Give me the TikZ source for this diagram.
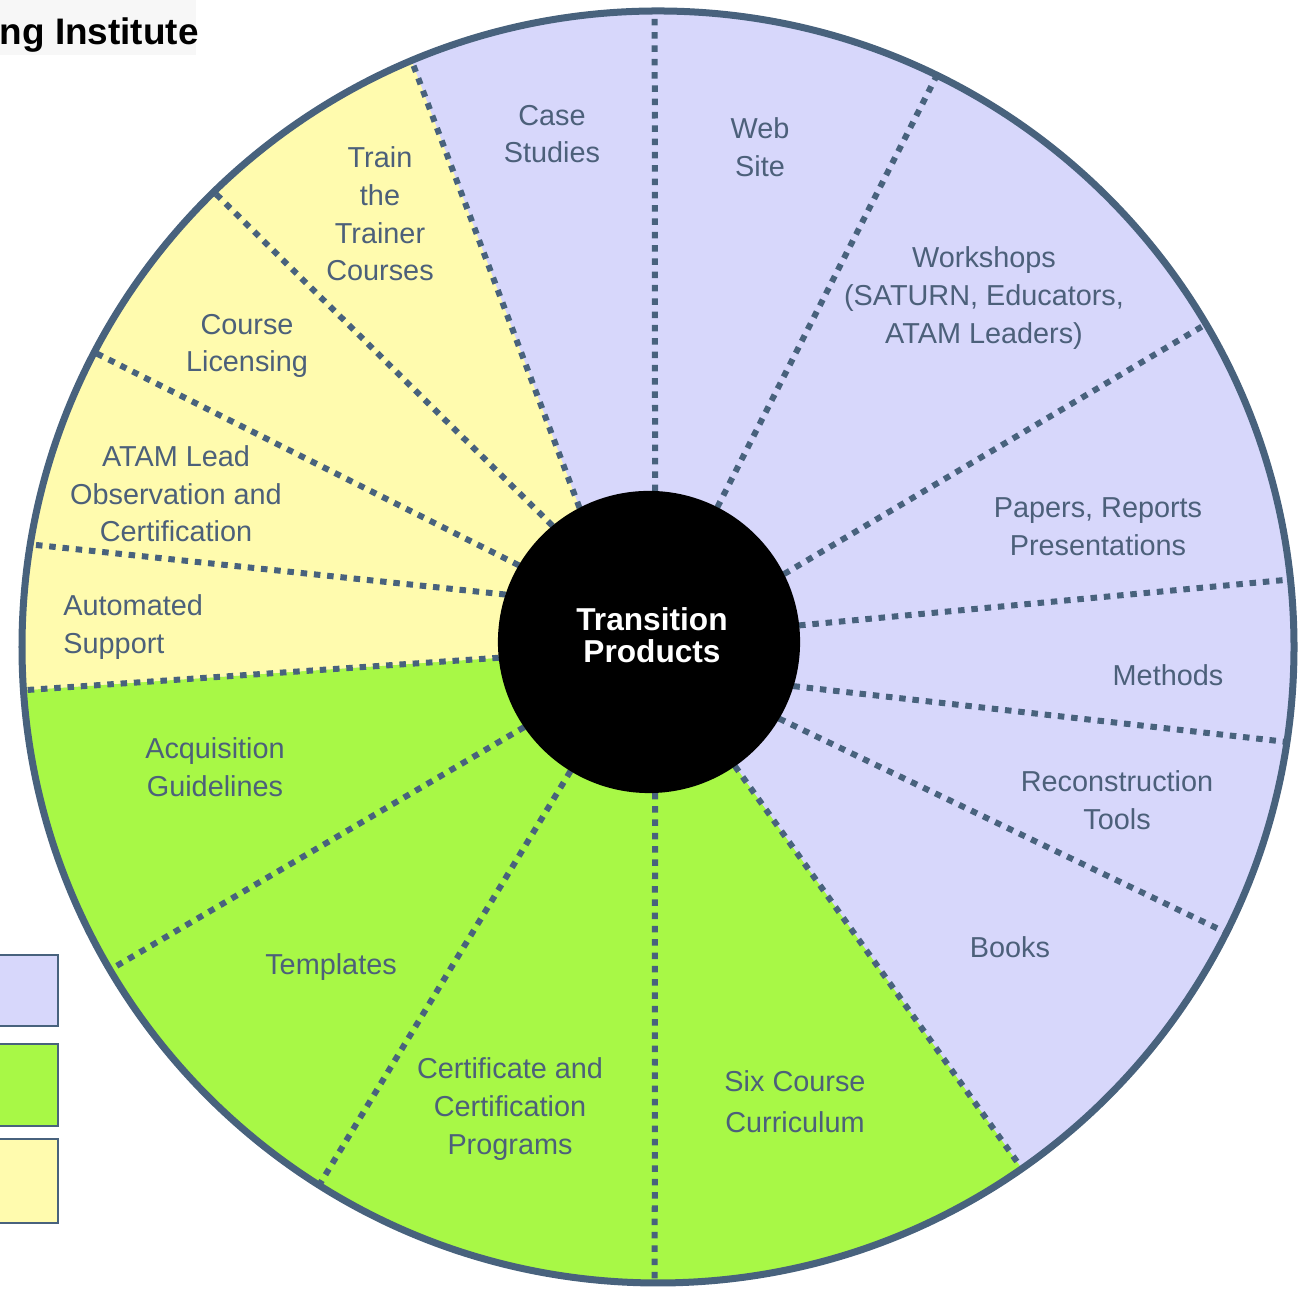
\documentclass[tikz,border=0pt]{standalone}
\usepackage{fontspec}
\setmainfont{Liberation Sans}
\usepackage{tikz}
\definecolor{seiring}{RGB}{72, 98, 125}
\definecolor{seitext}{RGB}{76, 96, 122}
\definecolor{seilav}{RGB}{215, 215, 251}
\definecolor{seigreen}{RGB}{168, 248, 70}
\definecolor{seiyellow}{RGB}{255, 251, 174}

\begin{document}
\begin{tikzpicture}[x=0.01cm, y=0.01cm,
  divider/.style={seiring, line width=0.06cm, dash pattern=on 0.065cm off 0.068cm},
  ring/.style={seiring, line width=0.07cm},
  legendbox/.style={draw=seiring, line width=0.5pt},
  sector/.style={text=seitext, align=center, font=\fontsize{8.2}{10.7}\selectfont},
  hub/.style={circle, fill=black, minimum size=3.02cm, inner sep=0pt, outer sep=0pt},
  hubtext/.style={text=white, align=center, font=\fontsize{9}{9.2}\selectfont\bfseries}]
\useasboundingbox (0,0) rectangle (1303,1292);
\clip (0,0) rectangle (1303,1292);

% Centres
\coordinate (O) at (658,645);
\coordinate (H) at (649,650);

% Sectors
\fill[seilav] (O) circle (636);
\fill[seigreen] ([shift={(-55.3:151)}]H) -- ([shift={(-55.1:636)}]O)
  arc[start angle=-55.1, end angle=-176.1, radius=636]
  -- ([shift={(186:151)}]H) -- (H) -- cycle;
\fill[seiyellow] ([shift={(186:151)}]H) -- ([shift={(183.9:636)}]O)
  arc[start angle=183.9, end angle=112.8, radius=636]
  -- ([shift={(117.4:151)}]H) -- (H) -- cycle;

% Dividers
\foreach \s/\e in {87.7/90.3, 63.1/64.0, 26.7/30.5, 6.3/6.1, -17.0/-8.6,
                   -30.5/-26.7, -55.3/-55.1, -87.7/-90.3, 238.7/237.8,
                   214.3/210.5, 186.0/183.9, 161.7/170.7, 149.5/152.4,
                   129.7/134.3, 117.4/112.8}
  \draw[divider] ([shift={(\s:151)}]H) -- ([shift={(\e:633)}]O);

% Outer ring
\draw[ring] (O) circle (636);

% Hub
\node[hub] (hub) at (H) {};
\node[hubtext] (hubtext) at (652,657) {Transition\\Products};

% Labels
\node[sector] (case) at (552,1158) {Case\\Studies};
\node[sector] (web) at (760,1145) {Web\\Site};
\node[sector] (workshops) at (984,994) {Workshops\\(SATURN, Educators,\\ATAM Leaders)};
\node[sector] (papers) at (1098,765) {Papers, Reports\\Presentations};
\node[sector] (methods) at (1168,617) {Methods};
\node[sector] (recon) at (1117,492) {Reconstruction\\Tools};
\node[sector] (books) at (1010,345) {Books};
\node[sector] (sixcourse) at (795,190) {Six Course\\[1pt]Curriculum};
\node[sector] (certif) at (510,183) {Certificate and\\Certification\\Programs};
\node[sector] (templates) at (331,325) {Templates};
\node[sector] (acq) at (215,525) {Acquisition\\Guidelines};
\node[sector, align=left, anchor=west] (auto) at (51,665) {Automated\\Support};
\node[sector] (atam) at (176,798) {ATAM Lead\\Observation and\\Certification};
\node[sector] (licensing) at (247,946) {Course\\Licensing};
\node[sector] (trainer) at (380,1078) {Train\\the\\Trainer\\Courses};

% Legend
\draw[legendbox, fill=seilav] (-10,266) rectangle (58,337);
\draw[legendbox, fill=seigreen] (-10,166) rectangle (58,248);
\draw[legendbox, fill=seiyellow] (-10,69) rectangle (58,153);

% Title
\fill[black!3] (0,1237) rectangle (196,1292);
\node[anchor=base west, inner sep=0pt, font=\fontsize{10.5}{12}\selectfont\bfseries] (title) at (-1,1247) {ng Institute};
\end{tikzpicture}
\end{document}
